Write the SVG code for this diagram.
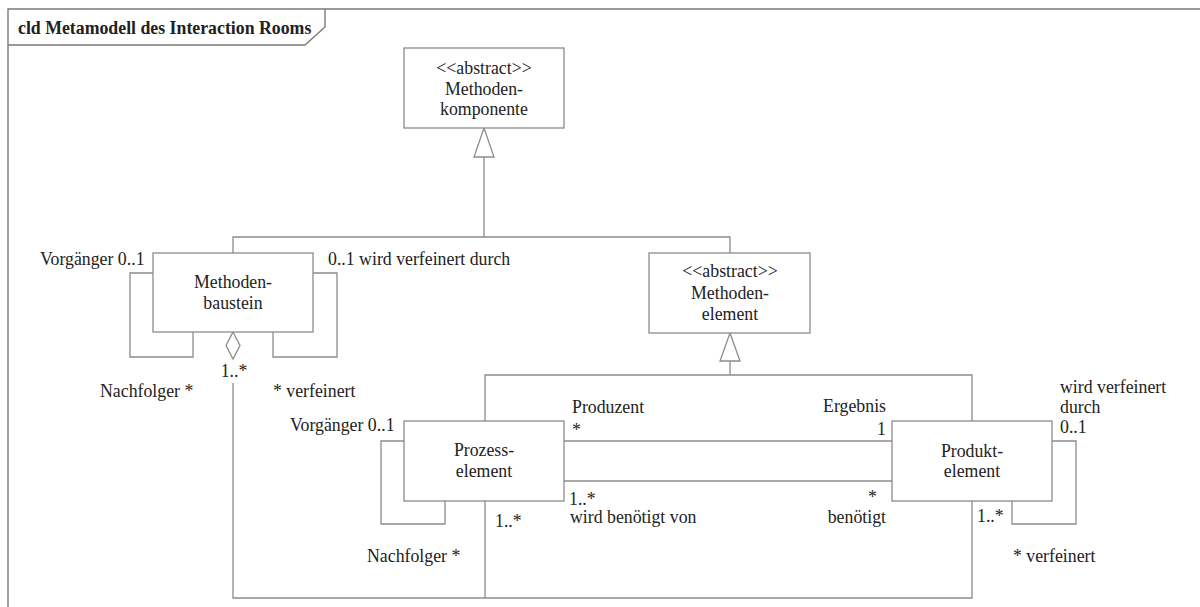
<svg xmlns="http://www.w3.org/2000/svg" width="1200" height="607" viewBox="0 0 1200 607" font-family="'Liberation Serif', 'Times New Roman', serif">
  <style>
    .frame{fill:none;stroke:#7a7a7a;stroke-width:1.4}
    .box{fill:#fff;stroke:#8c8c8c;stroke-width:1.3}
    .ln{fill:none;stroke:#8c8c8c;stroke-width:1.3}
    .head{fill:#fff;stroke:#8c8c8c;stroke-width:1.3}
    .t{font-family:'Liberation Serif','Times New Roman',serif;font-size:17.8px;fill:#222}
    .title{font-weight:bold}
    .c{text-anchor:middle}
    .e{text-anchor:end}
  </style>
  <rect width="1200" height="607" fill="#fff"/>

  <!-- diagram frame with name tab -->
  <g id="frame">
    <path class="frame" d="M8,607 V9 H1200"/>
    <path class="frame" d="M8,45 H305 L325,27 V9"/>
    <text class="t title" x="18" y="34">cld Metamodell des Interaction Rooms</text>
  </g>

  <!-- connectors -->
  <g id="connectors">
    <!-- generalization to Methodenkomponente -->
    <path class="ln" d="M233,253 V237 H730 V253"/>
    <path class="ln" d="M484,237 V157"/>
    <polygon class="head" points="484,128 474,157 494,157"/>
    <!-- generalization to Methodenelement -->
    <path class="ln" d="M730,361 V375"/>
    <path class="ln" d="M485,421 V375 H972 V421"/>
    <polygon class="head" points="730,333 720,361 740,361"/>
    <!-- Methodenbaustein self associations -->
    <path class="ln" d="M153,273 H130 V357 H193 V332"/>
    <path class="ln" d="M313,273 H337 V357 H273 V332"/>
    <!-- aggregation Methodenbaustein to elements -->
    <polygon class="head" points="233,332 240,345.5 233,359 226,345.5"/>
    <path class="ln" d="M233,383 V598 H972 V501"/>
    <path class="ln" d="M485,501 V598"/>
    <!-- Prozesselement self association -->
    <path class="ln" d="M404,441 H381 V524 H445 V501"/>
    <!-- Prozesselement to Produktelement -->
    <path class="ln" d="M564,441 H892"/>
    <path class="ln" d="M564,481 H892"/>
    <!-- Produktelement self association -->
    <path class="ln" d="M1052,441 H1076 V524 H1012 V501"/>

    <!-- association end labels -->
    <text class="t" x="40" y="265">Vorgänger 0..1</text>
    <text class="t" x="328" y="265">0..1 wird verfeinert durch</text>
    <text class="t" x="100" y="397">Nachfolger *</text>
    <text class="t" x="273" y="397">* verfeinert</text>
    <text class="t c" x="234" y="377">1..*</text>

    <text class="t" x="290" y="431">Vorgänger 0..1</text>
    <text class="t" x="367" y="562">Nachfolger *</text>
    <text class="t" x="495" y="527">1..*</text>
    <text class="t" x="572" y="413">Produzent</text>
    <text class="t" x="572" y="436">*</text>
    <text class="t" x="569" y="505">1..*</text>
    <text class="t" x="570" y="523">wird benötigt von</text>

    <text class="t e" x="886" y="412">Ergebnis</text>
    <text class="t e" x="886" y="435">1</text>
    <text class="t e" x="877" y="503">*</text>
    <text class="t e" x="886" y="523">benötigt</text>
    <text class="t" x="977" y="522">1..*</text>
    <text class="t" x="1060" y="393">wird verfeinert</text>
    <text class="t" x="1060" y="413">durch</text>
    <text class="t" x="1060" y="433">0..1</text>
    <text class="t" x="1013" y="562">* verfeinert</text>
  </g>

  <!-- classes -->
  <g id="methodenkomponente">
    <rect class="box" x="404" y="48" width="160" height="80"/>
    <text class="t c" x="484" y="74">&lt;&lt;abstract&gt;&gt;</text>
    <text class="t c" x="484" y="95">Methoden-</text>
    <text class="t c" x="484" y="115">komponente</text>
  </g>
  <g id="methodenbaustein">
    <rect class="box" x="153" y="253" width="160" height="79"/>
    <text class="t c" x="233" y="288">Methoden-</text>
    <text class="t c" x="233" y="309">baustein</text>
  </g>
  <g id="methodenelement">
    <rect class="box" x="649" y="253" width="161" height="80"/>
    <text class="t c" x="730" y="277">&lt;&lt;abstract&gt;&gt;</text>
    <text class="t c" x="730" y="299">Methoden-</text>
    <text class="t c" x="730" y="320">element</text>
  </g>
  <g id="prozesselement">
    <rect class="box" x="404" y="421" width="160" height="80"/>
    <text class="t c" x="484" y="456">Prozess-</text>
    <text class="t c" x="484" y="477">element</text>
  </g>
  <g id="produktelement">
    <rect class="box" x="892" y="421" width="160" height="80"/>
    <text class="t c" x="972" y="457">Produkt-</text>
    <text class="t c" x="972" y="477">element</text>
  </g>
</svg>
